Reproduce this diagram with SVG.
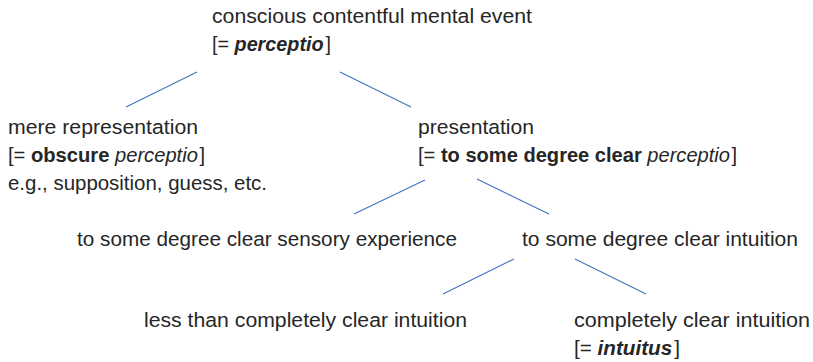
<svg xmlns="http://www.w3.org/2000/svg" width="813" height="362" viewBox="0 0 813 362">
<style>
text{font-family:"Liberation Sans",Arial,sans-serif;font-size:20.5px;fill:#262626}
.b{font-weight:bold}
.i{font-style:italic}
.bi{font-weight:bold;font-style:italic}
line{stroke:#4472C4;stroke-width:1.1}
</style>
<rect width="813" height="362" fill="#fff"/>
<g id="connectors">
<line x1="197" y1="72" x2="126" y2="107"/>
<line x1="340" y1="72" x2="411" y2="107"/>
<line x1="425" y1="180" x2="354" y2="214"/>
<line x1="477" y1="179" x2="549" y2="214"/>
<line x1="514" y1="259" x2="443" y2="294"/>
<line x1="575" y1="259" x2="646" y2="294"/>
</g>
<g id="root">
<text x="212" y="22.5" textLength="320" lengthAdjust="spacingAndGlyphs">conscious contentful mental event</text>
<text x="212" y="50.5" textLength="119" lengthAdjust="spacingAndGlyphs">[= <tspan class="bi">perceptio</tspan><tspan dx="2">]</tspan></text>
</g>
<g id="mere-representation">
<text x="8" y="134" textLength="190" lengthAdjust="spacingAndGlyphs">mere representation</text>
<text x="8" y="162" textLength="197" lengthAdjust="spacingAndGlyphs">[= <tspan class="b">obscure </tspan><tspan class="i">perceptio</tspan><tspan dx="1.5">]</tspan></text>
<text x="8" y="190" textLength="259" lengthAdjust="spacingAndGlyphs">e.g., supposition, guess, etc.</text>
</g>
<g id="presentation">
<text x="418" y="134" textLength="116" lengthAdjust="spacingAndGlyphs">presentation</text>
<text x="418" y="162" textLength="319" lengthAdjust="spacingAndGlyphs">[= <tspan class="b">to some degree clear </tspan><tspan class="i">perceptio</tspan><tspan dx="1.5">]</tspan></text>
</g>
<g id="sensory-experience">
<text x="77" y="246" textLength="380" lengthAdjust="spacingAndGlyphs">to some degree clear sensory experience</text>
</g>
<g id="clear-intuition">
<text x="522" y="246" textLength="276" lengthAdjust="spacingAndGlyphs">to some degree clear intuition</text>
</g>
<g id="less-than-complete">
<text x="144" y="327" textLength="323" lengthAdjust="spacingAndGlyphs">less than completely clear intuition</text>
</g>
<g id="completely-clear">
<text x="574" y="327" textLength="236" lengthAdjust="spacingAndGlyphs">completely clear intuition</text>
<text x="574" y="355" textLength="106" lengthAdjust="spacingAndGlyphs">[= <tspan class="bi">intuitus</tspan><tspan dx="2">]</tspan></text>
</g>
</svg>
